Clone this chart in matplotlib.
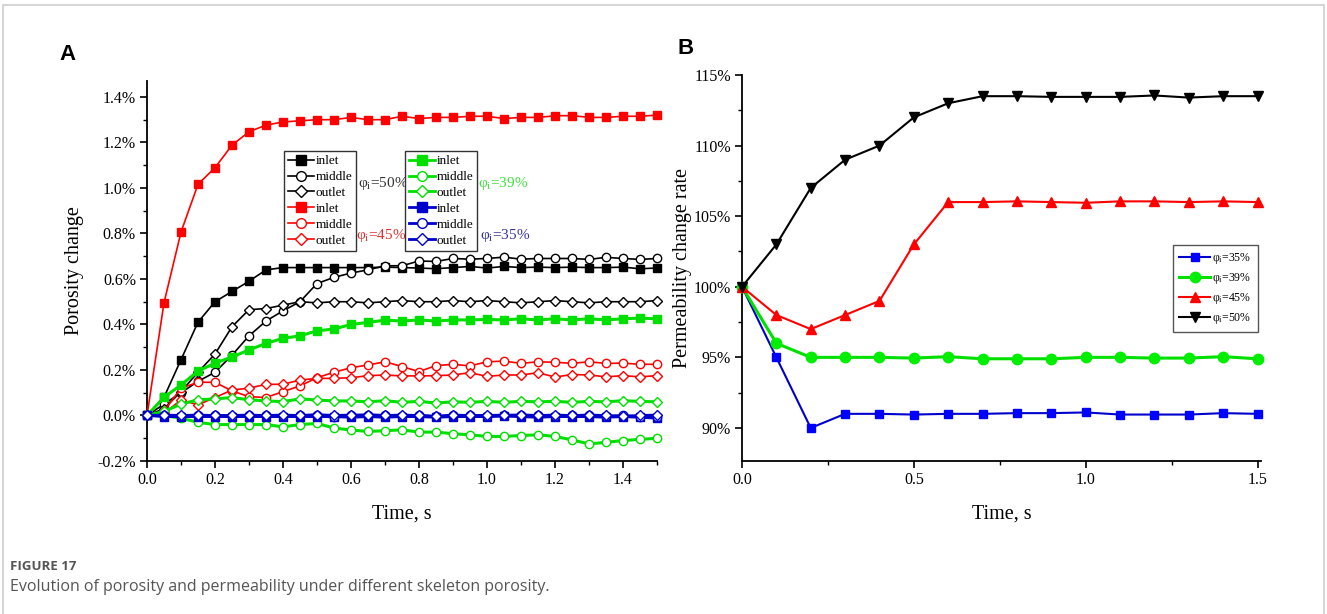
import numpy as np
import matplotlib as mpl
mpl.use('Agg')
import matplotlib.pyplot as plt
from matplotlib.lines import Line2D
from matplotlib.patches import Rectangle
from matplotlib.ticker import MultipleLocator, FuncFormatter

plt.rcParams['font.family'] = ['Liberation Serif', 'DejaVu Serif']
plt.rcParams['mathtext.fontset'] = 'custom'
plt.rcParams['mathtext.rm'] = 'Liberation Serif'
plt.rcParams['mathtext.it'] = 'Liberation Serif:italic'
plt.rcParams['axes.unicode_minus'] = False

# porosity change (%) along the sample, sampled every 0.05 s
t_a = [0.0, 0.05, 0.1, 0.15, 0.2, 0.25, 0.3, 0.35, 0.4, 0.45, 0.5, 0.55, 0.6, 0.65, 0.7, 0.75,
       0.8, 0.85, 0.9, 0.95, 1.0, 1.05, 1.1, 1.15, 1.2, 1.25, 1.3, 1.35, 1.4, 1.45, 1.5]

p50_inlet = [0, 0.08, 0.245, 0.41, 0.50, 0.545, 0.59, 0.64, 0.65, 0.65, 0.65, 0.65, 0.65, 0.65, 0.652, 0.65,
             0.648, 0.645, 0.65, 0.655, 0.648, 0.655, 0.65, 0.652, 0.65, 0.652, 0.65, 0.65, 0.652, 0.645, 0.648]
p50_middle = [0, 0.05, 0.10, 0.15, 0.19, 0.265, 0.35, 0.415, 0.46, 0.50, 0.58, 0.607, 0.626, 0.64, 0.658, 0.658,
              0.679, 0.677, 0.69, 0.687, 0.69, 0.696, 0.687, 0.69, 0.69, 0.69, 0.686, 0.695, 0.69, 0.686, 0.69]
p50_outlet = [0, 0.03, 0.105, 0.19, 0.27, 0.39, 0.465, 0.47, 0.485, 0.50, 0.495, 0.50, 0.50, 0.495, 0.50, 0.505,
              0.50, 0.50, 0.505, 0.50, 0.505, 0.50, 0.495, 0.50, 0.505, 0.50, 0.495, 0.50, 0.50, 0.50, 0.505]

p45_inlet = [0, 0.495, 0.806, 1.016, 1.089, 1.188, 1.247, 1.276, 1.29, 1.295, 1.30, 1.30, 1.31, 1.30, 1.30, 1.315,
             1.305, 1.31, 1.31, 1.315, 1.315, 1.305, 1.31, 1.31, 1.317, 1.318, 1.31, 1.31, 1.315, 1.315, 1.32]
p45_middle = [0, 0.02, 0.12, 0.146, 0.146, 0.108, 0.083, 0.079, 0.105, 0.13, 0.166, 0.19, 0.21, 0.222, 0.236, 0.215,
              0.193, 0.219, 0.225, 0.218, 0.236, 0.239, 0.229, 0.236, 0.234, 0.229, 0.236, 0.229, 0.23, 0.225, 0.225]
p45_outlet = [0, 0.01, 0.068, 0.047, 0.079, 0.112, 0.12, 0.137, 0.137, 0.156, 0.163, 0.163, 0.166, 0.175, 0.178, 0.174,
              0.174, 0.175, 0.178, 0.188, 0.172, 0.178, 0.178, 0.188, 0.169, 0.18, 0.178, 0.17, 0.175, 0.17, 0.175]

p39_inlet = [0, 0.08, 0.134, 0.195, 0.23, 0.257, 0.288, 0.317, 0.339, 0.35, 0.372, 0.38, 0.40, 0.409, 0.419, 0.415,
             0.42, 0.415, 0.42, 0.42, 0.422, 0.42, 0.425, 0.42, 0.425, 0.42, 0.425, 0.42, 0.425, 0.428, 0.425]
p39_middle = [0, 0.0, -0.012, -0.03, -0.04, -0.04, -0.04, -0.04, -0.05, -0.04, -0.035, -0.055, -0.064, -0.07, -0.067, -0.063,
              -0.073, -0.073, -0.08, -0.085, -0.092, -0.092, -0.088, -0.085, -0.092, -0.107, -0.125, -0.118, -0.11, -0.105, -0.10]
p39_outlet = [0, 0.018, 0.05, 0.069, 0.073, 0.079, 0.069, 0.064, 0.061, 0.073, 0.068, 0.064, 0.064, 0.06, 0.065, 0.058,
              0.062, 0.055, 0.06, 0.058, 0.062, 0.058, 0.062, 0.06, 0.062, 0.058, 0.062, 0.06, 0.065, 0.062, 0.06]

p35_inlet = [0, -0.005, -0.005, -0.005, -0.005, -0.005, -0.005, -0.005, -0.005, -0.005, -0.005, -0.005, -0.008, -0.005, -0.008, -0.005,
             -0.005, -0.008, -0.005, -0.005, -0.005, -0.003, -0.005, -0.008, -0.005, -0.005, -0.005, -0.008, -0.005, -0.008, -0.012]
p35_middle = [0, 0.0, -0.002, 0.0, 0.0, -0.002, 0.0, 0.0, -0.002, 0.0, 0.0, -0.008, 0.0, 0.004, 0.0, -0.002,
              0.0, -0.004, 0.0, 0.0, -0.002, 0.0, 0.003, 0.0, -0.002, 0.0, 0.0, -0.004, 0.0, -0.005, -0.006]
p35_outlet = [0, 0.002, 0.0, 0.002, 0.0, 0.0, 0.002, 0.0, 0.002, 0.0, 0.004, 0.0, 0.002, 0.0, 0.0, 0.002,
              0.0, -0.004, 0.002, 0.0, 0.0, 0.002, 0.0, 0.0, 0.002, 0.0, 0.002, 0.0, -0.004, 0.0, 0.002]

# permeability change rate (%) every 0.1 s
t_b = [0.0, 0.1, 0.2, 0.3, 0.4, 0.5, 0.6, 0.7, 0.8, 0.9, 1.0, 1.1, 1.2, 1.3, 1.4, 1.5]
k35 = [100, 95, 90, 91, 91, 90.95, 91, 91, 91.05, 91.05, 91.1, 90.95, 90.95, 90.95, 91.05, 91.0]
k39 = [100, 96, 95, 95, 95, 94.95, 95.05, 94.9, 94.9, 94.9, 95, 95, 94.95, 94.95, 95.05, 94.9]
k45 = [100, 98, 97, 98, 99, 103, 106, 106, 106.05, 106, 105.95, 106.05, 106.05, 106, 106.05, 106]
k50 = [100, 103, 107, 109, 110, 112, 113, 113.5, 113.5, 113.45, 113.45, 113.45, 113.55, 113.4, 113.5, 113.5]

RED = '#ff0000'
GRN = '#00e000'
BLU = '#0000cc'
BLK = '#000000'

W, H = 1327, 614
f = plt.figure(figsize=(W/100, H/100), dpi=100)

def style_axis(ax):
    for s in ['top', 'right']:
        ax.spines[s].set_visible(False)
    for s in ['left', 'bottom']:
        ax.spines[s].set_linewidth(1.3)
    ax.tick_params(which='major', direction='out', length=5, width=1.2, labelsize=11.5, pad=3)
    ax.tick_params(which='minor', direction='out', length=3, width=1.0)

# ---- A: porosity change ----
ax = plt.axes([147/W, 1-461/H, 510/W, (461-81)/H])
series_a = [
    (p50_inlet, BLK, 's', BLK, 1.2), (p50_middle, BLK, 'o', 'white', 1.2), (p50_outlet, BLK, 'D', 'white', 1.2),
    (p45_inlet, RED, 's', RED, 1.2), (p45_middle, RED, 'o', 'white', 1.2), (p45_outlet, RED, 'D', 'white', 1.2),
    (p39_inlet, GRN, 's', GRN, 2.2), (p39_middle, GRN, 'o', 'white', 2.2), (p39_outlet, GRN, 'D', 'white', 2.2),
    (p35_inlet, BLU, 's', BLU, 2.0), (p35_middle, BLU, 'o', 'white', 2.0), (p35_outlet, BLU, 'D', 'white', 2.0),
]
handles = []
for y, c, m, fc, lw in series_a:
    ms = 5 if m == 'D' else 6
    ax.plot(t_a, y, color=c, lw=lw, marker=m, ms=ms, mfc=fc, mec=c, mew=1.0, clip_on=False, zorder=3)
    handles.append(Line2D([], [], color=c, lw=lw if c != GRN else 2.0, marker=m, ms=ms + 1, mfc=fc, mec=c, mew=1.0))

ax.set_xlim(0, 1.5)
ax.set_ylim(-0.2, 1.47)
ax.xaxis.set_major_locator(MultipleLocator(0.2))
ax.xaxis.set_minor_locator(MultipleLocator(0.1))
ax.yaxis.set_major_locator(MultipleLocator(0.2))
ax.yaxis.set_minor_locator(MultipleLocator(0.1))
ax.xaxis.set_major_formatter(FuncFormatter(lambda v, p: '%.1f' % v))
ax.yaxis.set_major_formatter(FuncFormatter(lambda v, p: '%.1f%%' % v))
style_axis(ax)
ax.set_xlabel('Time, s', fontsize=14.5, labelpad=12)
ax.set_ylabel('Porosity change', fontsize=14.5, labelpad=10)

names = ['inlet', 'middle', 'outlet']
legkw = dict(loc='upper left', fontsize=9.5, handlelength=2.0, handletextpad=0.1, labelspacing=0.28,
             borderpad=0.3, borderaxespad=0, fancybox=False, framealpha=1, edgecolor='#333333')
leg1 = ax.legend(handles[:6], names * 2, bbox_to_anchor=((284-147)/510, (461-151)/380), **legkw)
leg1.get_frame().set_linewidth(1.0)
ax.add_artist(leg1)
leg2 = ax.legend(handles[6:], names * 2, bbox_to_anchor=((405-147)/510, (461-151)/380), **legkw)
leg2.get_frame().set_linewidth(1.0)

grp = [('50%', '#333333', (383-147)/510, (461-183)/380),
       ('45%', '#e03030', (381-147)/510, (461-235)/380),
       ('39%', '#40e040', (503-147)/510, (461-183)/380),
       ('35%', '#333399', (505-147)/510, (461-235)/380)]
for lab, c, x, y in grp:
    ax.text(x, y, 'φ$_\\mathrm{i}$=' + lab, color=c, fontsize=11, ha='center', va='center', transform=ax.transAxes)

# ---- B: permeability change rate ----
ax1 = plt.axes([742/W, 1-461/H, 519/W, (461-75)/H])
series_b = [(k35, BLU, '#0000ff', 's', 6, 'φ$_\\mathrm{i}$=35%'),
            (k39, GRN, '#00ee00', 'o', 7.5, 'φ$_\\mathrm{i}$=39%'),
            (k45, RED, RED, '^', 7.5, 'φ$_\\mathrm{i}$=45%'),
            (k50, BLK, BLK, 'v', 7.5, 'φ$_\\mathrm{i}$=50%')]
for y, c, mc, m, ms, lab in series_b:
    ax1.plot(t_b, y, color=c, lw=1.5 if c != GRN else 2.2, marker=m, ms=ms, mfc=mc, mec=mc, label=lab,
             clip_on=False, zorder=3)
ax1.set_xlim(0, 1.51)
ax1.set_ylim(87.66, 115)
ax1.xaxis.set_major_locator(MultipleLocator(0.5))
ax1.xaxis.set_minor_locator(MultipleLocator(0.25))
ax1.yaxis.set_major_locator(MultipleLocator(5))
ax1.yaxis.set_minor_locator(MultipleLocator(2.5))
ax1.xaxis.set_major_formatter(FuncFormatter(lambda v, p: '%.1f' % v))
ax1.yaxis.set_major_formatter(FuncFormatter(lambda v, p: '%d%%' % round(v)))
style_axis(ax1)
ax1.set_xlabel('Time, s', fontsize=14.5, labelpad=12)
ax1.set_ylabel('Permeability change rate', fontsize=14.5, labelpad=1)
leg3 = ax1.legend(loc='upper right', bbox_to_anchor=((1258-742)/519, (461-245)/386), fontsize=8.5,
                  handlelength=2.6, handletextpad=0.2, labelspacing=0.4, borderpad=0.55, borderaxespad=0,
                  fancybox=False, framealpha=1, edgecolor='#555555')
leg3.get_frame().set_linewidth(1.0)

# panel letters and caption
f.text(67/W, 1-55/H, 'A', fontsize=16, fontweight='bold', family='Liberation Sans', ha='center', va='center')
f.text(686/W, 1-48/H, 'B', fontsize=16, fontweight='bold', family='Liberation Sans', ha='center', va='center')
f.text(10/W, 1-566/H, 'FIGURE 17', fontsize=9.5, fontweight='bold', family='Open Sans', color='#555555',
       ha='left', va='center')
f.text(10/W, 1-587/H, 'Evolution of porosity and permeability under different skeleton porosity.',
       fontsize=11.5, family='Open Sans', color='#555555', ha='left', va='center')
f.add_artist(Rectangle((3/W, -0.2), (W-6)/W, 1.2-5/H, transform=f.transFigure, fill=False,
                       ec='#d6d6d6', lw=1.5))

plt.savefig('out.png', dpi=100)
plt.close(f)
